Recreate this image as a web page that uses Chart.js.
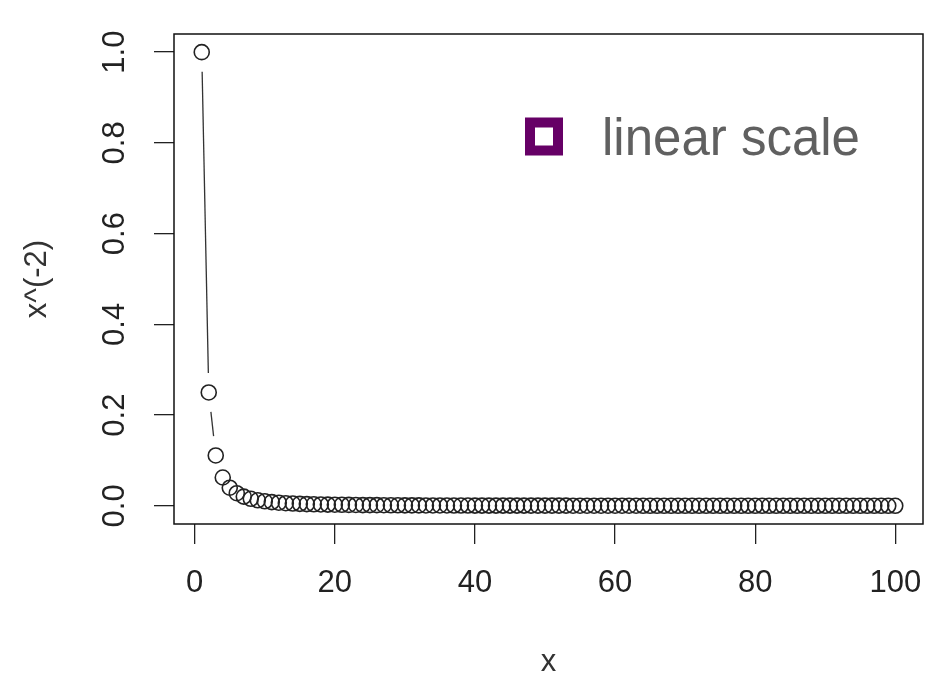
<!DOCTYPE html>
<html lang="en">
<head>
    <meta charset="UTF-8">
    <title>x^(-2) on a linear scale</title>
    <script src="https://cdn.jsdelivr.net/npm/chart.js"></script>
    <style>
        body {
            margin: 0;
            background: white;
        }
        #chart {
            display: block;
        }
    </style>
</head>
<body>
    <canvas id="chart" width="926" height="679"></canvas>

    <script>
        // x values 1..100 and the plotted x^(-2)
        const xValues = [
            1, 2, 3, 4, 5, 6, 7, 8, 9, 10,
            11, 12, 13, 14, 15, 16, 17, 18, 19, 20,
            21, 22, 23, 24, 25, 26, 27, 28, 29, 30,
            31, 32, 33, 34, 35, 36, 37, 38, 39, 40,
            41, 42, 43, 44, 45, 46, 47, 48, 49, 50,
            51, 52, 53, 54, 55, 56, 57, 58, 59, 60,
            61, 62, 63, 64, 65, 66, 67, 68, 69, 70,
            71, 72, 73, 74, 75, 76, 77, 78, 79, 80,
            81, 82, 83, 84, 85, 86, 87, 88, 89, 90,
            91, 92, 93, 94, 95, 96, 97, 98, 99, 100
        ];
        const yValues = [
            1, 0.25, 0.1111, 0.0625, 0.04, 0.0278, 0.0204, 0.0156, 0.0123, 0.01,
            0.0083, 0.0069, 0.0059, 0.0051, 0.0044, 0.0039, 0.0035, 0.0031, 0.0028, 0.0025,
            0.0023, 0.0021, 0.0019, 0.0017, 0.0016, 0.0015, 0.0014, 0.0013, 0.0012, 0.0011,
            0.001, 0.001, 0.0009, 0.0009, 0.0008, 0.0008, 0.0007, 0.0007, 0.0007, 0.0006,
            0.0006, 0.0006, 0.0005, 0.0005, 0.0005, 0.0005, 0.0005, 0.0004, 0.0004, 0.0004,
            0.0004, 0.0004, 0.0004, 0.0003, 0.0003, 0.0003, 0.0003, 0.0003, 0.0003, 0.0003,
            0.0003, 0.0003, 0.0003, 0.0002, 0.0002, 0.0002, 0.0002, 0.0002, 0.0002, 0.0002,
            0.0002, 0.0002, 0.0002, 0.0002, 0.0002, 0.0002, 0.0002, 0.0002, 0.0002, 0.0002,
            0.0002, 0.0001, 0.0001, 0.0001, 0.0001, 0.0001, 0.0001, 0.0001, 0.0001, 0.0001,
            0.0001, 0.0001, 0.0001, 0.0001, 0.0001, 0.0001, 0.0001, 0.0001, 0.0001, 0.0001
        ];
        const xTicks = [0, 20, 40, 60, 80, 100];
        const yTicks = [0, 0.2, 0.4, 0.6, 0.8, 1.0];
        const legendLabel = 'linear scale';

        const fontFamily = "'Liberation Sans', Arial, sans-serif";

        // R's type="b": line segments with a gap round each point
        const gappedLines = {
            id: 'gappedLines',
            afterDatasetsDraw(chart) {
                const pts = chart.getDatasetMeta(0).data;
                const gap = 19.5;
                const ctx = chart.ctx;
                ctx.save();
                ctx.strokeStyle = '#333';
                ctx.lineWidth = 1.3;
                for (let i = 0; i < pts.length - 1; i++) {
                    const a = pts[i], b = pts[i + 1];
                    const dx = b.x - a.x, dy = b.y - a.y;
                    const len = Math.hypot(dx, dy);
                    if (len <= 2 * gap) continue;
                    const ux = dx / len, uy = dy / len;
                    ctx.beginPath();
                    ctx.moveTo(a.x + ux * gap, a.y + uy * gap);
                    ctx.lineTo(b.x - ux * gap, b.y - uy * gap);
                    ctx.stroke();
                }
                ctx.restore();
            }
        };

        // plot box plus the legend inside it
        const boxAndLegend = {
            id: 'boxAndLegend',
            afterDraw(chart) {
                const { ctx, chartArea } = chart;
                ctx.save();
                ctx.strokeStyle = '#111';
                ctx.lineWidth = 1.5;
                ctx.strokeRect(chartArea.left, chartArea.top,
                    chartArea.right - chartArea.left, chartArea.bottom - chartArea.top);

                const cx = chartArea.left + 370, cy = chartArea.top + 102.5;
                ctx.strokeStyle = '#660066';
                ctx.lineWidth = 10;
                ctx.strokeRect(cx - 14, cy - 14, 28, 28);

                ctx.fillStyle = '#606060';
                ctx.font = '51px ' + fontFamily;
                ctx.textAlign = 'left';
                ctx.textBaseline = 'alphabetic';
                ctx.fillText(legendLabel, chartArea.left + 428, chartArea.top + 121);
                ctx.restore();
            }
        };

        const ctx = document.getElementById('chart').getContext('2d');
        new Chart(ctx, {
            type: 'scatter',
            data: {
                datasets: [{
                    data: xValues.map((x, i) => ({ x: x, y: yValues[i] })),
                    showLine: false,
                    pointStyle: 'circle',
                    pointRadius: 7.5,
                    pointBorderWidth: 1.6,
                    pointBorderColor: '#222',
                    pointBackgroundColor: 'rgba(0,0,0,0)'
                }]
            },
            options: {
                responsive: false,
                animation: false,
                layout: {
                    autoPadding: false,
                    padding: { top: 34, right: 3, left: 0, bottom: 0 }
                },
                plugins: {
                    legend: { display: false },
                    tooltip: { enabled: false }
                },
                scales: {
                    x: {
                        type: 'linear',
                        min: -2.96,
                        max: 103.96,
                        afterFit(scale) {
                            scale.height = 155;
                            scale.paddingLeft = 0;
                            scale.paddingRight = 0;
                        },
                        afterBuildTicks(scale) { scale.ticks = xTicks.map(v => ({ value: v })); },
                        border: { display: false },
                        grid: {
                            drawOnChartArea: false,
                            tickLength: 20,
                            color: '#222',
                            lineWidth: 1.3
                        },
                        ticks: {
                            padding: 21,
                            color: '#222',
                            maxRotation: 0,
                            font: { family: fontFamily, size: 31 },
                            callback: v => String(v)
                        },
                        title: {
                            display: true,
                            text: 'x',
                            color: '#333',
                            font: { family: fontFamily, size: 31, lineHeight: 1 },
                            padding: { top: 0, bottom: 1 }
                        }
                    },
                    y: {
                        type: 'linear',
                        min: -0.04,
                        max: 1.04,
                        afterFit(scale) {
                            scale.width = 174;
                            scale.paddingTop = 0;
                            scale.paddingBottom = 0;
                        },
                        afterBuildTicks(scale) { scale.ticks = yTicks.map(v => ({ value: v })); },
                        border: { display: false },
                        grid: {
                            drawOnChartArea: false,
                            tickLength: 20,
                            color: '#222',
                            lineWidth: 1.3
                        },
                        ticks: {
                            padding: 17,
                            color: '#222',
                            minRotation: 90,
                            maxRotation: 90,
                            crossAlign: 'center',
                            font: { family: fontFamily, size: 31 },
                            callback: v => Number(v).toFixed(1)
                        },
                        title: {
                            display: true,
                            text: 'x^(-2)',
                            color: '#333',
                            font: { family: fontFamily, size: 31, lineHeight: 1 },
                            padding: { top: 22, bottom: 0 }
                        }
                    }
                }
            },
            plugins: [gappedLines, boxAndLegend]
        });
    </script>
</body>
</html>
